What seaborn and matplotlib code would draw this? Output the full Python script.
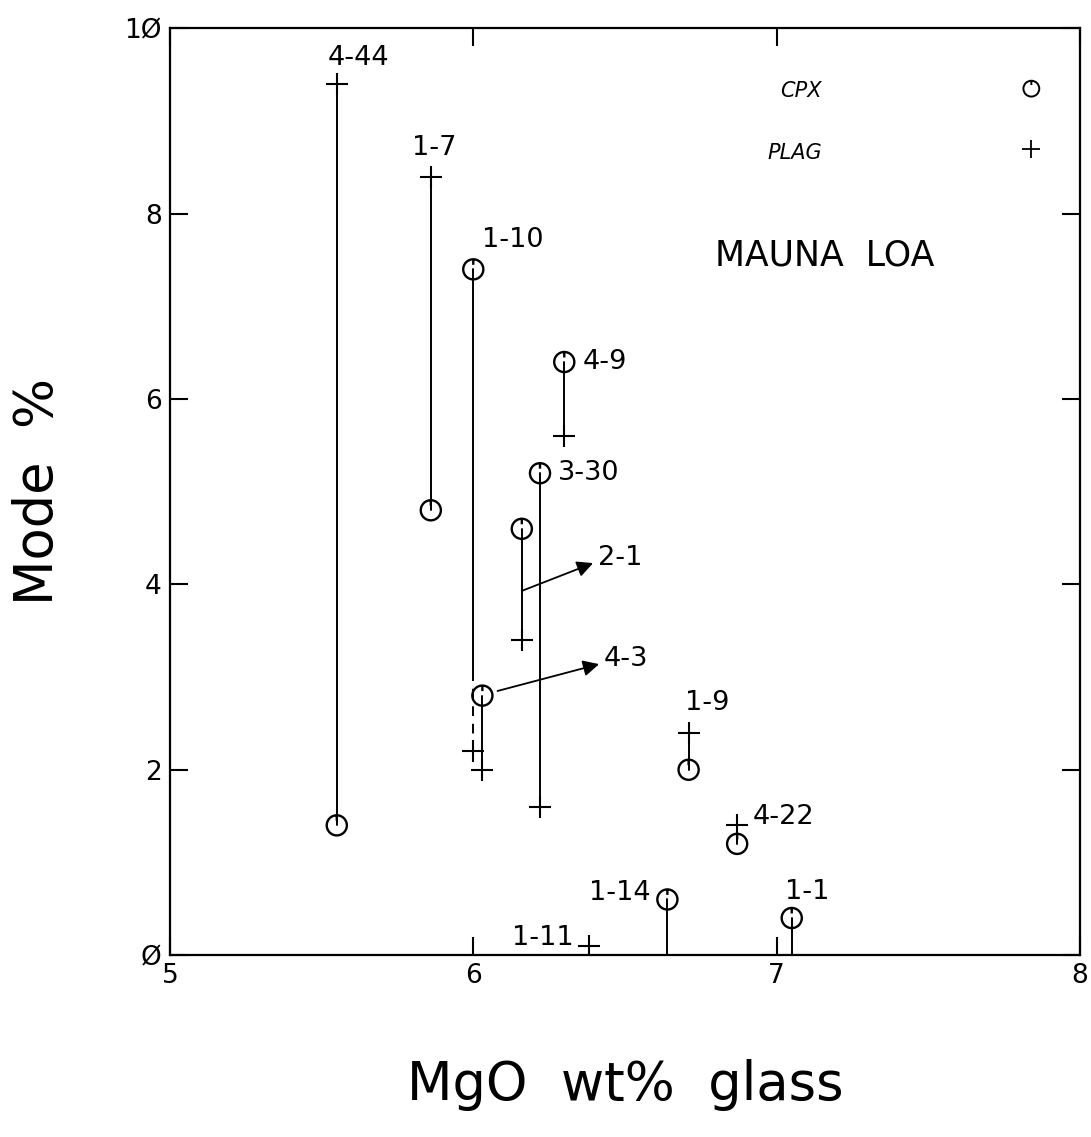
import numpy as np
import pandas as pd
import matplotlib
matplotlib.use("Agg")
import matplotlib.pyplot as plt
from matplotlib.path import Path
import seaborn as sns

# ---------------- data ----------------
samples = ["4-44", "1-7", "1-10", "4-9", "3-30", "2-1", "4-3", "1-9", "4-22", "1-14", "1-1", "1-11"]
mgo = [5.55, 5.86, 6.00, 6.30, 6.22, 6.16, 6.03, 6.71, 6.87, 6.64, 7.05, 6.38]
cpx_mode = [1.4, 4.8, 7.4, 6.4, 5.2, 4.6, 2.8, 2.0, 1.2, 0.6, 0.4, 0.0]
plag_mode = [9.4, 8.4, 2.2, 5.6, 1.6, 3.4, 2.0, 2.4, 1.4, 0.0, 0.0, 0.1]
dashed_sample = "1-10"
dashed_break = 3.0

x_ticks = [5, 6, 7, 8]
x_ticklabels = ["5", "6", "7", "8"]
y_ticks = [0, 2, 4, 6, 8, 10]
y_ticklabels = ["Ø", "2", "4", "6", "8", "1Ø"]

df = pd.DataFrame({"sample": samples, "mgo": mgo, "cpx": cpx_mode, "plag": plag_mode})

# ---------------- layout / style ----------------
label_pos = {
    "4-44": (5.62, 9.68, "center"),
    "1-7": (5.87, 8.71, "center"),
    "1-10": (6.13, 7.72, "center"),
    "4-9": (6.36, 6.40, "left"),
    "3-30": (6.28, 5.20, "left"),
    "4-22": (6.92, 1.49, "left"),
    "1-9": (6.77, 2.72, "center"),
    "1-14": (6.585, 0.67, "right"),
    "1-1": (7.10, 0.68, "center"),
    "1-11": (6.33, 0.18, "right"),
}
arrow_labels = {
    "2-1": ((6.16, 3.93), (6.41, 4.29)),
    "4-3": ((6.08, 2.85), (6.43, 3.20)),
}

sns.set_style("ticks")
plt.rcParams["font.family"] = ["DejaVu Sans"]
plt.rcParams.update({"text.color": "black", "axes.labelcolor": "black",
                     "xtick.color": "black", "ytick.color": "black"})

# circle marker with small tick at the top (as in the original plot)
circ = Path.unit_circle()
tick = Path([[0, 1.0], [0, 0.45]], [Path.MOVETO, Path.LINETO])
cpx_marker = Path.make_compound_path(circ, tick)

fig = plt.figure(figsize=(10.91, 11.37), dpi=100)
ax = fig.add_axes([0.1558, 0.160, 0.834, 0.815])

# vertical tie lines
for _, r in df.iterrows():
    lo, hi = sorted([r["cpx"], r["plag"]])
    if r["sample"] == dashed_sample:
        ax.plot([r["mgo"], r["mgo"]], [dashed_break, hi], color="k", lw=1.4, zorder=1)
        ax.plot([r["mgo"], r["mgo"]], [lo, dashed_break], color="k", lw=1.4,
                ls=(0, (5, 4)), zorder=1)
    else:
        ax.plot([r["mgo"], r["mgo"]], [lo, hi], color="k", lw=1.4, zorder=1)

cpx_df = df[df["cpx"] > 0]
plag_df = df[df["plag"] > 0]
sns.scatterplot(data=cpx_df, x="mgo", y="cpx", marker=cpx_marker, s=210,
                facecolor="none", edgecolor="k", linewidth=1.7, ax=ax, zorder=3)
sns.scatterplot(data=plag_df, x="mgo", y="plag", marker="+", s=270,
                color="k", linewidth=1.5, ax=ax, zorder=3)

# sample labels
lab_fs = 19.5
for name, (lx, ly, ha) in label_pos.items():
    ax.text(lx, ly, name, ha=ha, va="center", fontsize=lab_fs, color="k")
for name, ((tx, ty), (lx, ly)) in arrow_labels.items():
    ax.annotate("", xy=(lx - 0.015, ly - 0.06), xytext=(tx, ty), textcoords="data",
                arrowprops=dict(arrowstyle="-|>", color="k", lw=1.3, mutation_scale=24,
                                shrinkA=0, shrinkB=0))
    ax.text(lx, ly, name, ha="left", va="center", fontsize=lab_fs, color="k")

# legend drawn like the original
ax.text(7.08, 9.33, "CPX", fontsize=15, style="italic", ha="center", va="center")
ax.text(7.06, 8.66, "PLAG", fontsize=15, style="italic", ha="center", va="center")
ax.scatter([7.84], [9.35], marker=cpx_marker, s=130, facecolor="none", edgecolor="k", linewidth=1.4)
ax.scatter([7.84], [8.70], marker="+", s=160, color="k", linewidth=1.3)
ax.text(7.16, 7.55, "MAUNA  LOA", fontsize=25, ha="center", va="center")

ax.set_xlim(5, 8)
ax.set_ylim(0, 10)
ax.set_xticks(x_ticks)
ax.set_xticklabels(x_ticklabels)
ax.set_yticks(y_ticks)
ax.set_yticklabels(y_ticklabels)
ax.tick_params(direction="in", length=13, width=1.5, top=True, right=True,
               labelsize=19, pad=6, colors="k")
for sp in ax.spines.values():
    sp.set_visible(True)
    sp.set_linewidth(1.6)
    sp.set_color("k")

ax.set_xlabel("MgO  wt%  glass", fontsize=38, color="k")
ax.xaxis.label.set_va("center")
ax.xaxis.set_label_coords(0.5, -0.14)
ax.set_ylabel("Mode  %", fontsize=38, color="k")
ax.yaxis.label.set_va("center")
ax.yaxis.set_label_coords(-0.145, 0.50)

fig.savefig("out.png", dpi=100, facecolor="white")
